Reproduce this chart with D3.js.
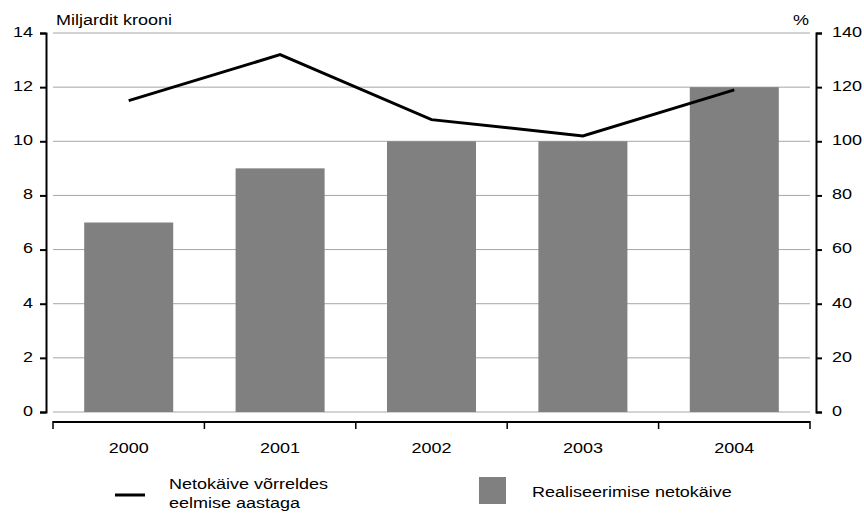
<!DOCTYPE html>
<html>
<head>
<meta charset="utf-8">
<script src="https://cdn.jsdelivr.net/npm/d3@7"></script>
<style>
  body { margin: 0; background: #fff; }
  svg { display: block; }
  text { font-family: "Liberation Sans", Arial, Helvetica, sans-serif; font-size: 15px; fill: #000; }
</style>
</head>
<body>
<svg id="chart" width="864" height="516"></svg>
<script>
// data
const years = ["2000", "2001", "2002", "2003", "2004"];
const turnover = [7, 9, 10, 10, 12];          // Realiseerimise netokäive, mld krooni
const growth = [115, 132, 108, 102, 119];      // Netokäive võrreldes eelmise aastaga, %
const leftTicks = [0, 2, 4, 6, 8, 10, 12, 14];
const rightTicks = [0, 20, 40, 60, 80, 100, 120, 140];

const SX = 1.2; // reference type is set horizontally wide
const svg = d3.select("#chart");

const plot = { left: 53, right: 810, top: 33, bottom: 412 };

const x = d3.scaleBand()
    .domain(years)
    .range([plot.left, plot.right])
    .paddingInner(0.412)
    .paddingOuter(0.206);

const yL = d3.scaleLinear().domain([0, 14]).range([plot.bottom, plot.top]);
const yR = d3.scaleLinear().domain([0, 140]).range([plot.bottom, plot.top]);

// gridlines
svg.append("g").attr("class", "grid")
  .selectAll("line").data(leftTicks).join("line")
    .attr("x1", plot.left).attr("x2", plot.right)
    .attr("y1", d => yL(d)).attr("y2", d => yL(d))
    .attr("stroke", "#a6a6a6").attr("stroke-width", 1);

// bars
svg.append("g").attr("class", "bars")
  .selectAll("rect").data(years).join("rect")
    .attr("x", d => x(d))
    .attr("y", (d, i) => yL(turnover[i]))
    .attr("width", x.bandwidth())
    .attr("height", (d, i) => yL(0) - yL(turnover[i]))
    .attr("fill", "#808080");

// line
const line = d3.line()
    .x((d, i) => x(years[i]) + x.bandwidth() / 2)
    .y(d => yR(d));
svg.append("path").datum(growth)
    .attr("d", line)
    .attr("fill", "none")
    .attr("stroke", "#000")
    .attr("stroke-width", 3)
    .attr("stroke-linejoin", "miter");

// left axis
const leftAxis = d3.axisLeft(yL).tickValues(leftTicks).tickSize(6).tickSizeOuter(6).tickPadding(7);
svg.append("g").attr("transform", "translate(46,0)")
    .call(leftAxis)
    .call(g => g.selectAll("path, line").attr("stroke", "#000").attr("stroke-width", 2))
    .call(g => g.selectAll("text")
        .attr("font-size", null).attr("font-family", null)
        .attr("x", -13 / SX).attr("dy", "0.22em")
        .attr("transform", `scale(${SX},1)`));
svg.selectAll("g").attr("font-size", null).attr("font-family", null);

// right axis
const rightAxis = d3.axisRight(yR).tickValues(rightTicks).tickSize(6).tickSizeOuter(6).tickPadding(7);
svg.append("g").attr("transform", "translate(816,0)")
    .attr("font-size", null).attr("font-family", null)
    .call(rightAxis)
    .call(g => g.attr("font-size", null).attr("font-family", null))
    .call(g => g.selectAll("path, line").attr("stroke", "#000").attr("stroke-width", 2))
    .call(g => g.selectAll("text")
        .attr("x", 16 / SX).attr("dy", "0.22em")
        .attr("transform", `scale(${SX},1)`));

// bottom axis: ticks sit on band boundaries, labels in band centres
const xG = svg.append("g").attr("class", "x-axis");
xG.append("line")
    .attr("x1", plot.left).attr("x2", plot.right)
    .attr("y1", 422).attr("y2", 422)
    .attr("stroke", "#000").attr("stroke-width", 2);
const bounds = d3.range(years.length + 1).map(i => plot.left + i * x.step());
xG.selectAll("line.tick").data(bounds).join("line")
    .attr("class", "tick")
    .attr("x1", d => d).attr("x2", d => d)
    .attr("y1", 421).attr("y2", 429)
    .attr("stroke", "#000").attr("stroke-width", 1.5);
xG.selectAll("text").data(years).join("text")
    .attr("text-anchor", "middle")
    .attr("transform", d => `translate(${x(d) + x.bandwidth() / 2},453) scale(${SX},1)`)
    .text(d => d);

// axis titles
svg.append("text")
    .attr("transform", `translate(56,25) scale(${SX},1)`)
    .text("Miljardit krooni");
svg.append("text")
    .attr("text-anchor", "end")
    .attr("transform", `translate(809,25) scale(${SX},1)`)
    .text("%");

// legend
const legend = svg.append("g").attr("class", "legend");
legend.append("line")
    .attr("x1", 115).attr("x2", 145).attr("y1", 495).attr("y2", 495)
    .attr("stroke", "#000").attr("stroke-width", 3);
const lt = legend.append("text").attr("transform", `translate(169,489) scale(${SX},1)`);
lt.append("tspan").attr("x", 0).attr("y", 0).text("Netokäive võrreldes");
lt.append("tspan").attr("x", 0).attr("y", 19).text("eelmise aastaga");
legend.append("rect")
    .attr("x", 479).attr("y", 477).attr("width", 27).attr("height", 27)
    .attr("fill", "#808080");
legend.append("text")
    .attr("transform", `translate(532,497) scale(${SX},1)`)
    .text("Realiseerimise netokäive");
</script>
</body>
</html>
